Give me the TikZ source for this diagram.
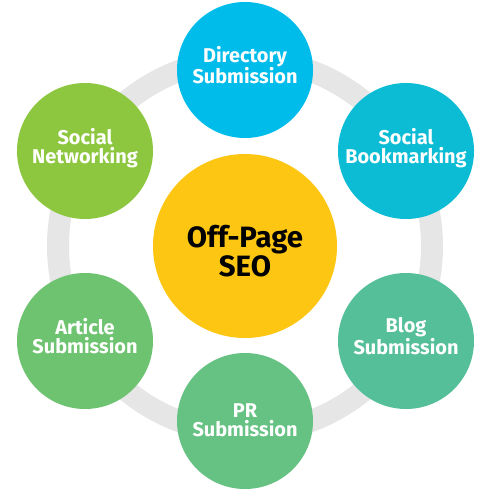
\documentclass[tikz,border=0pt]{standalone}
\usepackage{fontspec}
\setmainfont{Fira Sans}
\usepackage{tikz}

\definecolor{ringgray}{HTML}{E6E6E6}
\definecolor{seoyellow}{HTML}{FDC613}
\definecolor{dircyan}{HTML}{00BCEA}
\definecolor{bookcyan}{HTML}{0BBCD4}
\definecolor{netgreen}{HTML}{8DC63F}
\definecolor{artgreen}{HTML}{6EC370}
\definecolor{bloggreen}{HTML}{55BF9A}
\definecolor{prgreen}{HTML}{66C282}

\begin{document}
\begin{tikzpicture}[x=1bp,y=-1bp,
  topic/.style={circle,minimum size=136bp,inner sep=0pt,text=white,align=center,
    text depth=10bp,font=\bfseries\fontsize{20}{19}\selectfont},
  hub/.style={circle,fill=seoyellow,minimum size=184bp,inner sep=0pt,align=center,
    text height=61bp,font=\bfseries\fontsize{29.5}{29}\selectfont}]
\useasboundingbox (0,0) rectangle (492,492);
\draw[ringgray,line width=22bp] (245,246) circle[radius=187];

\node[hub] (seo) at (245,246) {Off-Page\\SEO};
\node[topic,fill=dircyan] (dir) at (245,70) {Directory\\Submission};
\node[topic,fill=bookcyan] (book) at (406,151) {Social\\Bookmarking};
\node[topic,fill=bloggreen] (blog) at (406,341) {Blog\\Submission};
\node[topic,fill=prgreen,text depth=2bp] (pr) at (245,421) {PR\\Submission};
\node[topic,fill=artgreen] (art) at (85,341) {Article\\Submission};
\node[topic,fill=netgreen] (net) at (85,151) {Social\\Networking};
\end{tikzpicture}
\end{document}
